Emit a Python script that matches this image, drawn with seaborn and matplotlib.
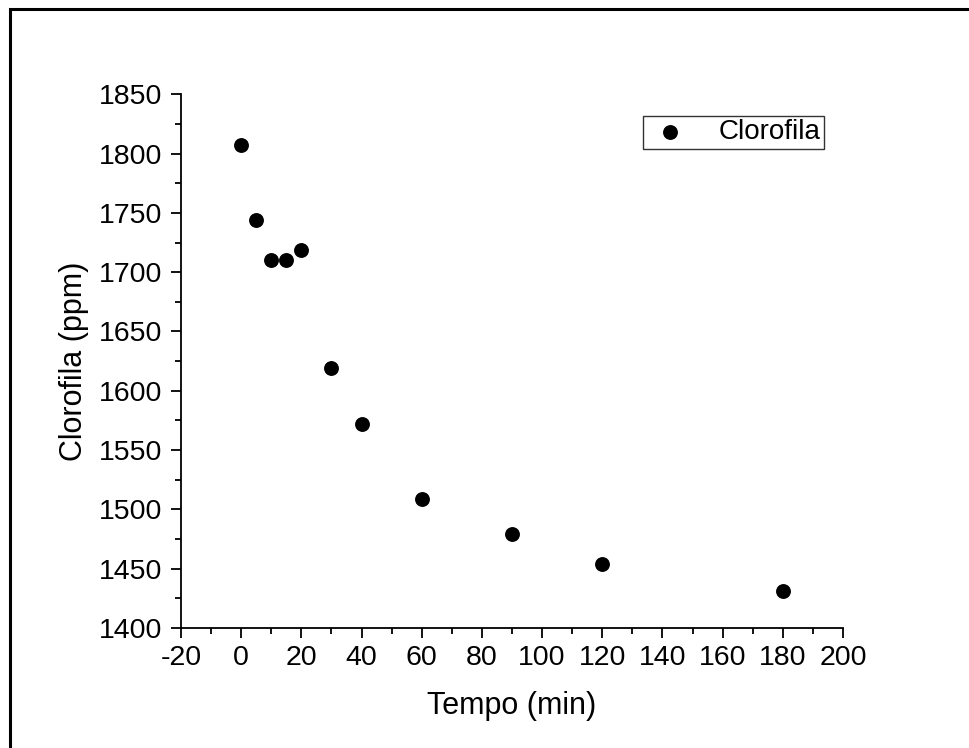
import matplotlib
matplotlib.use("Agg")
import matplotlib.pyplot as plt
import seaborn as sns
import pandas as pd
from matplotlib.patches import Rectangle
from matplotlib.ticker import MultipleLocator

tempo = [0, 5, 10, 15, 20, 30, 40, 60, 90, 120, 180]
clorofila = [1807, 1744, 1710, 1710, 1719, 1619, 1572, 1509, 1479, 1454, 1431]
xticks = [-20, 0, 20, 40, 60, 80, 100, 120, 140, 160, 180, 200]
yticks = [1400, 1450, 1500, 1550, 1600, 1650, 1700, 1750, 1800, 1850]

sns.set_style("ticks")
plt.rcParams['font.family'] = ['Liberation Sans', 'DejaVu Sans']
plt.rcParams['axes.unicode_minus'] = False
plt.rcParams['text.color'] = 'black'
plt.rcParams['axes.labelcolor'] = 'black'

df = pd.DataFrame({"Tempo (min)": tempo, "Clorofila (ppm)": clorofila})

fig = plt.figure(figsize=(9.7, 7.48), dpi=100)
ax = fig.add_axes([181/970, 1-628/748, (843-181)/970, (628-94.3)/748])

sns.scatterplot(data=df, x="Tempo (min)", y="Clorofila (ppm)", ax=ax,
                color="black", s=115, edgecolor="black", linewidth=0,
                label="Clorofila", zorder=3)

ax.set_xlim(-20, 200)
ax.set_ylim(1400, 1850)
ax.set_xticks(xticks)
ax.set_yticks(yticks)
ax.set_xticklabels([str(v) for v in xticks])
ax.set_yticklabels([str(v) for v in yticks])
ax.xaxis.set_minor_locator(MultipleLocator(10))
ax.yaxis.set_minor_locator(MultipleLocator(25))
for s in ["top", "right"]:
    ax.spines[s].set_visible(False)
for s in ["left", "bottom"]:
    ax.spines[s].set_linewidth(1.3)
    ax.spines[s].set_color("black")
ax.tick_params(which="major", direction="out", length=7.5, width=1.3, labelsize=20.5,
               colors="black", labelcolor="black")
ax.tick_params(axis="x", which="major", pad=5)
ax.tick_params(axis="y", which="major", pad=6)
ax.tick_params(which="minor", direction="out", length=4.5, width=1.3, colors="black")
ax.set_xlabel("Tempo (min)", fontsize=22, labelpad=14, color="black")
ax.set_ylabel("Clorofila (ppm)", fontsize=22, labelpad=7, color="black")

leg = ax.legend(loc="upper left", bbox_to_anchor=(643/970, 1-116/748),
                bbox_transform=fig.transFigure, fontsize=20, frameon=True,
                fancybox=False, shadow=False, borderpad=0.12, handletextpad=0.9,
                borderaxespad=0, handlelength=1.7, markerscale=1.0)
leg.get_frame().set_edgecolor("black")
leg.get_frame().set_linewidth(1.0)
for t in leg.get_texts():
    t.set_color("black")

fig.patches.append(Rectangle((10/970, -0.1), 1.1, 1 - 9/748 + 0.1,
                             transform=fig.transFigure, fill=False,
                             edgecolor="black", linewidth=2.2, figure=fig))

fig.savefig("out.png", dpi=100)
